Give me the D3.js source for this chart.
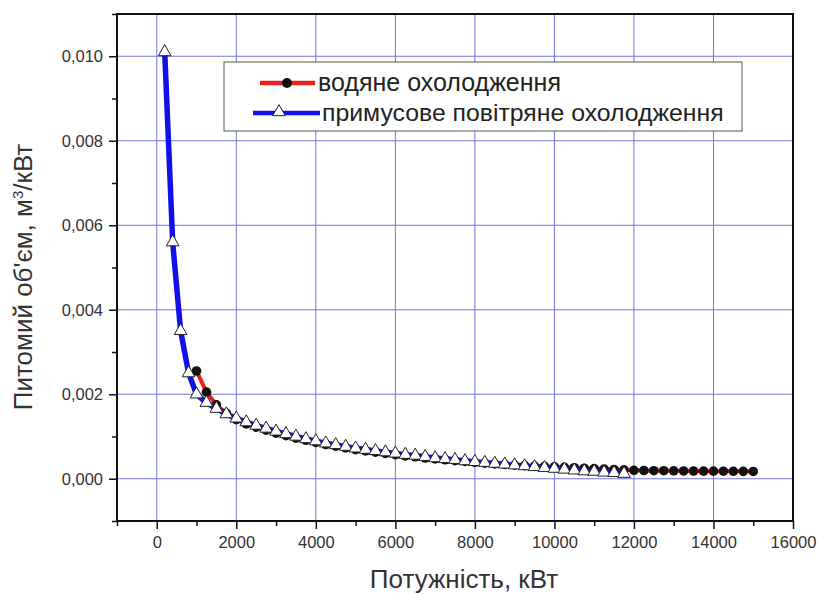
<!DOCTYPE html>
<html><head><meta charset="utf-8">
<script src="https://cdn.jsdelivr.net/npm/d3@7"></script>
<style>body{margin:0;background:#fff}svg{display:block}</style>
</head><body>
<svg id="c" width="832" height="595"></svg>
<script>
const xTicks = [0,2000,4000,6000,8000,10000,12000,14000,16000];
const yTicks = [0,0.002,0.004,0.006,0.008,0.010];
const xTickLabels = ["0","2000","4000","6000","8000","10000","12000","14000","16000"];
const yTickLabels = ["0,000","0,002","0,004","0,006","0,008","0,010"];

const airP = [200,400,600,800,1000,1250,1500,1750,2000,2250,2500,2750,3000,3250,3500,3750,4000,4250,4500,4750,5000,5250,5500,5750,6000,6250,6500,6750,7000,7250,7500,7750,8000,8250,8500,8750,9000,9250,9500,9750,10000,10250,10500,10750,11000,11250,11500,11750];
const airV = [0.0101,0.0056,0.0035,0.0025,0.0020,0.00180,0.00166,0.00153,0.00143,0.00134,0.00126,0.00119,0.00112,0.00106,0.00100,0.00094,0.00089,0.00084,0.00080,0.00076,0.00072,0.00069,0.00066,0.00063,0.00060,0.00057,0.00055,0.00052,0.00049,0.00047,0.00045,0.00042,0.00040,0.00038,0.00036,0.00034,0.00032,0.00030,0.00028,0.00026,0.00024,0.00022,0.00020,0.00018,0.00017,0.00015,0.00014,0.00012];

const waterP = [1000,1250,1500,1750,2000,2250,2500,2750,3000,3250,3500,3750,4000,4250,4500,4750,5000,5250,5500,5750,6000,6250,6500,6750,7000,7250,7500,7750,8000,8250,8500,8750,9000,9250,9500,9750,10000,10250,10500,10750,11000,11250,11500,11750,12000,12250,12500,12750,13000,13250,13500,13750,14000,14250,14500,14750,15000];
const waterV = [0.00255,0.00205,0.00175,0.00155,0.00140,0.00130,0.00122,0.00115,0.00108,0.00102,0.00096,0.00091,0.00086,0.00081,0.00077,0.00073,0.00069,0.00066,0.00063,0.00060,0.00057,0.00054,0.00052,0.00049,0.00047,0.00045,0.00043,0.00041,0.00039,0.00037,0.00035,0.00034,0.00032,0.00031,0.00030,0.00029,0.00028,0.00027,0.00026,0.00025,0.00024,0.00023,0.00022,0.00021,0.00020,0.000195,0.00019,0.00019,0.000188,0.000185,0.000183,0.00018,0.00018,0.000178,0.000176,0.000175,0.000173];

const seriesNames = ["водяне охолодження","примусове повітряне охолодження"];

const svg = d3.select("#c");
const L=117, R=793, T=14, B=521;
const x = d3.scaleLinear().domain([-1000,16000]).range([L,R]);
const y = d3.scaleLinear().domain([-0.001,0.011]).range([B,T]);
const font = "'Liberation Sans', Arial, sans-serif";
const gridColor = "#7474dc";

// grid
svg.append("g").selectAll("line").data(xTicks.filter(d=>d<16000)).join("line")
  .attr("x1",d=>x(d)).attr("x2",d=>x(d)).attr("y1",T).attr("y2",B)
  .attr("stroke",gridColor).attr("stroke-width",1);
svg.append("g").selectAll("line").data(yTicks).join("line")
  .attr("y1",d=>y(d)).attr("y2",d=>y(d)).attr("x1",L).attr("x2",R)
  .attr("stroke",gridColor).attr("stroke-width",1);

// axes
const xAxis = d3.axisBottom(x).tickValues(xTicks).tickFormat((d,i)=>xTickLabels[i]).tickSize(8).tickPadding(7);
const xMinor = d3.axisBottom(x).tickValues(d3.range(-1000,16001,1000).filter(v=>!xTicks.includes(v))).tickFormat("").tickSize(5);
const yAxis = d3.axisLeft(y).tickValues(yTicks).tickFormat((d,i)=>yTickLabels[i]).tickSize(8).tickPadding(6);
const yMinor = d3.axisLeft(y).tickValues([-0.001,0.001,0.003,0.005,0.007,0.009,0.011]).tickFormat("").tickSize(5);

function styleAxis(g){
  g.select(".domain").remove();
  g.selectAll(".tick line").attr("stroke","#111").attr("stroke-width",1.5);
  g.selectAll("text").attr("font-family",font).attr("font-size",16.5).attr("fill","#333");
}
svg.append("g").attr("transform",`translate(0,${B})`).call(xAxis).call(styleAxis);
svg.append("g").attr("transform",`translate(0,${B})`).call(xMinor).call(styleAxis);
svg.append("g").attr("transform",`translate(${L},0)`).call(yAxis).call(styleAxis);
svg.append("g").attr("transform",`translate(${L},0)`).call(yMinor).call(styleAxis);

// frame
svg.append("rect").attr("x",L).attr("y",T).attr("width",R-L).attr("height",B-T)
  .attr("fill","none").attr("stroke","#111").attr("stroke-width",2);

// data
const water = waterP.map((p,i)=>[p,waterV[i]]);
const air = airP.map((p,i)=>[p,airV[i]]);
const line = d3.line().x(d=>x(d[0])).y(d=>y(d[1]));
const tri = d3.symbol().type(d3.symbolTriangle).size(70);

svg.append("path").datum(water).attr("d",line).attr("fill","none").attr("stroke","#ee1c1c").attr("stroke-width",4);
svg.append("g").selectAll("circle").data(water).join("circle")
  .attr("cx",d=>x(d[0])).attr("cy",d=>y(d[1])).attr("r",4.8).attr("fill","#111");
svg.append("path").datum(air).attr("d",line).attr("fill","none").attr("stroke","#1010e8").attr("stroke-width",5.5);
svg.append("g").selectAll("path").data(air).join("path")
  .attr("d",tri).attr("transform",d=>`translate(${x(d[0])},${y(d[1])})`)
  .attr("fill","#fff").attr("stroke","#222").attr("stroke-width",1);

// legend
const lg = svg.append("g");
lg.append("rect").attr("x",224).attr("y",62).attr("width",518).attr("height",69)
  .attr("fill","#fff").attr("stroke","#555").attr("stroke-width",1);
lg.append("line").attr("x1",260).attr("x2",315).attr("y1",83).attr("y2",83).attr("stroke","#ee1c1c").attr("stroke-width",4.5);
lg.append("circle").attr("cx",287).attr("cy",83).attr("r",5).attr("fill","#111");
lg.append("text").attr("x",318).attr("y",91).text(seriesNames[0])
  .attr("font-family",font).attr("font-size",25).attr("fill","#222");
lg.append("line").attr("x1",253).attr("x2",320).attr("y1",113).attr("y2",113).attr("stroke","#1010e8").attr("stroke-width",4.5);
lg.append("path").attr("d",tri).attr("transform","translate(279,112)").attr("fill","#fff").attr("stroke","#222");
lg.append("text").attr("x",322).attr("y",121).text(seriesNames[1])
  .attr("font-family",font).attr("font-size",24.8).attr("fill","#222");

// axis titles
svg.append("text").attr("x",464).attr("y",588).attr("text-anchor","middle")
  .attr("font-family",font).attr("font-size",26).attr("fill","#333").text("Потужність, кВт");
const yl = svg.append("text").attr("transform","translate(32,277) rotate(-90)").attr("text-anchor","middle")
  .attr("font-family",font).attr("font-size",26).attr("fill","#333");
yl.append("tspan").text("Питомий об'єм, м");
yl.append("tspan").attr("dy",-9).attr("font-size",15).text("3");
yl.append("tspan").attr("dy",9).text("/кВт");
</script>
</body></html>
